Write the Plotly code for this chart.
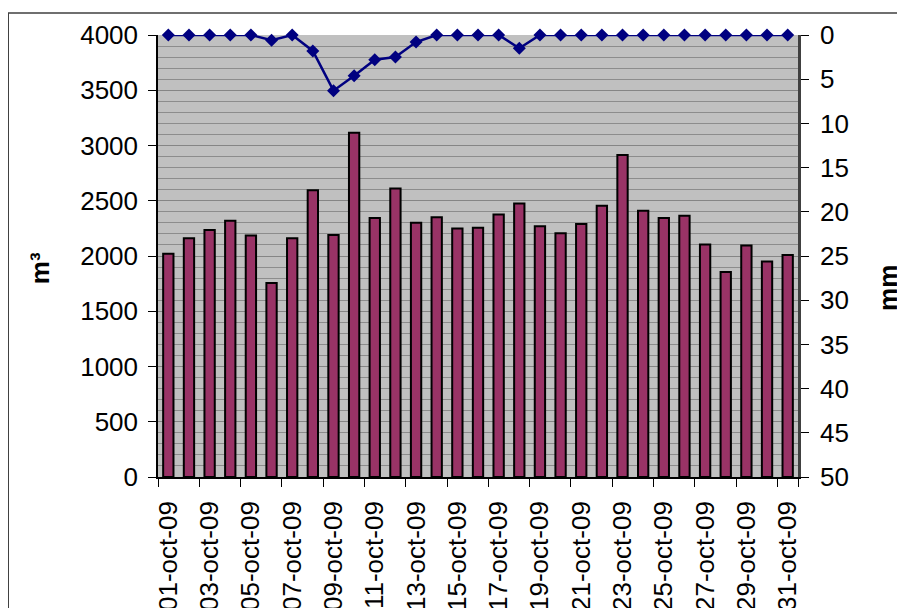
import plotly.graph_objects as go
from plotly.subplots import make_subplots

# Datos de octubre 2009: volumen diario (m³) y precipitación (mm)
dias = ["01-oct-09", "02-oct-09", "03-oct-09", "04-oct-09", "05-oct-09",
        "06-oct-09", "07-oct-09", "08-oct-09", "09-oct-09", "10-oct-09",
        "11-oct-09", "12-oct-09", "13-oct-09", "14-oct-09", "15-oct-09",
        "16-oct-09", "17-oct-09", "18-oct-09", "19-oct-09", "20-oct-09",
        "21-oct-09", "22-oct-09", "23-oct-09", "24-oct-09", "25-oct-09",
        "26-oct-09", "27-oct-09", "28-oct-09", "29-oct-09", "30-oct-09",
        "31-oct-09"]
volumen_m3 = [2020, 2160, 2235, 2320, 2185, 1755, 2160, 2595, 2190, 3115,
              2345, 2610, 2300, 2350, 2250, 2255, 2375, 2475, 2270, 2205,
              2290, 2455, 2915, 2410, 2345, 2365, 2105, 1855, 2095, 1950,
              2010]
lluvia_mm = [0, 0, 0, 0, 0, 0.6, 0, 1.8, 6.3, 4.6,
             2.8, 2.5, 0.8, 0, 0, 0, 0, 1.5, 0, 0,
             0, 0, 0, 0, 0, 0, 0, 0, 0, 0,
             0]
etiquetas_x = dias[::2]

fuente = 'Liberation Sans, Arial, sans-serif'

fig = make_subplots(specs=[[{'secondary_y': True}]])

fig.add_trace(go.Bar(
    x=dias, y=volumen_m3,
    marker=dict(color='#993366', line=dict(color='black', width=2)),
    name='m³'
), secondary_y=False)

fig.add_trace(go.Scatter(
    x=dias, y=lluvia_mm,
    mode='lines+markers',
    line=dict(color='#000080', width=2.5),
    marker=dict(symbol='diamond', size=10, color='#000080'),
    cliponaxis=False,
    name='mm'
), secondary_y=True)

fig.update_xaxes(
    type='category',
    domain=[0, 1],
    range=[-0.5, len(dias) - 0.5],
    tickmode='array', tickvals=etiquetas_x, ticktext=etiquetas_x,
    tickson='boundaries',
    tickangle=-90,
    ticks='outside', ticklen=8, tickcolor='black',
    ticklabelstandoff=12,
    showline=True, linecolor='black', linewidth=1.5,
    showgrid=False,
    tickfont=dict(family=fuente, size=26, color='black'),
    automargin=False,
)

fig.update_yaxes(
    range=[0, 4000], dtick=500,
    ticks='outside', ticklen=8, tickcolor='black',
    ticklabelstandoff=5,
    showline=True, linecolor='black', linewidth=1.5,
    showgrid=True, gridcolor='#858585', gridwidth=1,
    minor=dict(dtick=100, showgrid=True, gridcolor='#8c8c8c', gridwidth=1),
    zeroline=False,
    tickfont=dict(family=fuente, size=26, color='black'),
    automargin=False,
    secondary_y=False,
)

fig.update_yaxes(
    range=[50, 0], dtick=5,
    ticks='outside', ticklen=8, tickcolor='black',
    ticklabelstandoff=6,
    showline=True, linecolor='#404040', linewidth=2.5,
    showgrid=False, zeroline=False,
    tickfont=dict(family=fuente, size=26, color='black'),
    automargin=False,
    secondary_y=True,
)

# la página añade 8 px de margen al cuerpo: figura de 897x600
fig.update_layout(
    width=897, height=600,
    margin=dict(l=150, r=107, t=27, b=131),
    paper_bgcolor='white',
    plot_bgcolor='#c0c0c0',
    bargap=0.5,
    showlegend=False,
    font=dict(family=fuente, color='black'),
    annotations=[
        dict(text='<b>m³</b>', xref='paper', yref='paper',
             x=-0.184, y=0.473, xanchor='center', yanchor='middle',
             textangle=-90, showarrow=False,
             font=dict(family=fuente, size=26, color='black')),
        dict(text='<b>mm</b>', xref='paper', yref='paper',
             x=1.1406, y=0.4276, xanchor='center', yanchor='middle',
             textangle=-90, showarrow=False,
             font=dict(family=fuente, size=26, color='black')),
    ],
    shapes=[
        dict(type='rect', xref='paper', yref='paper',
             x0=-0.234, y0=-1, x1=2, y1=1.0498,
             line=dict(color='#404040', width=1.5), layer='below'),
    ],
)

fig.write_html('out.html')
